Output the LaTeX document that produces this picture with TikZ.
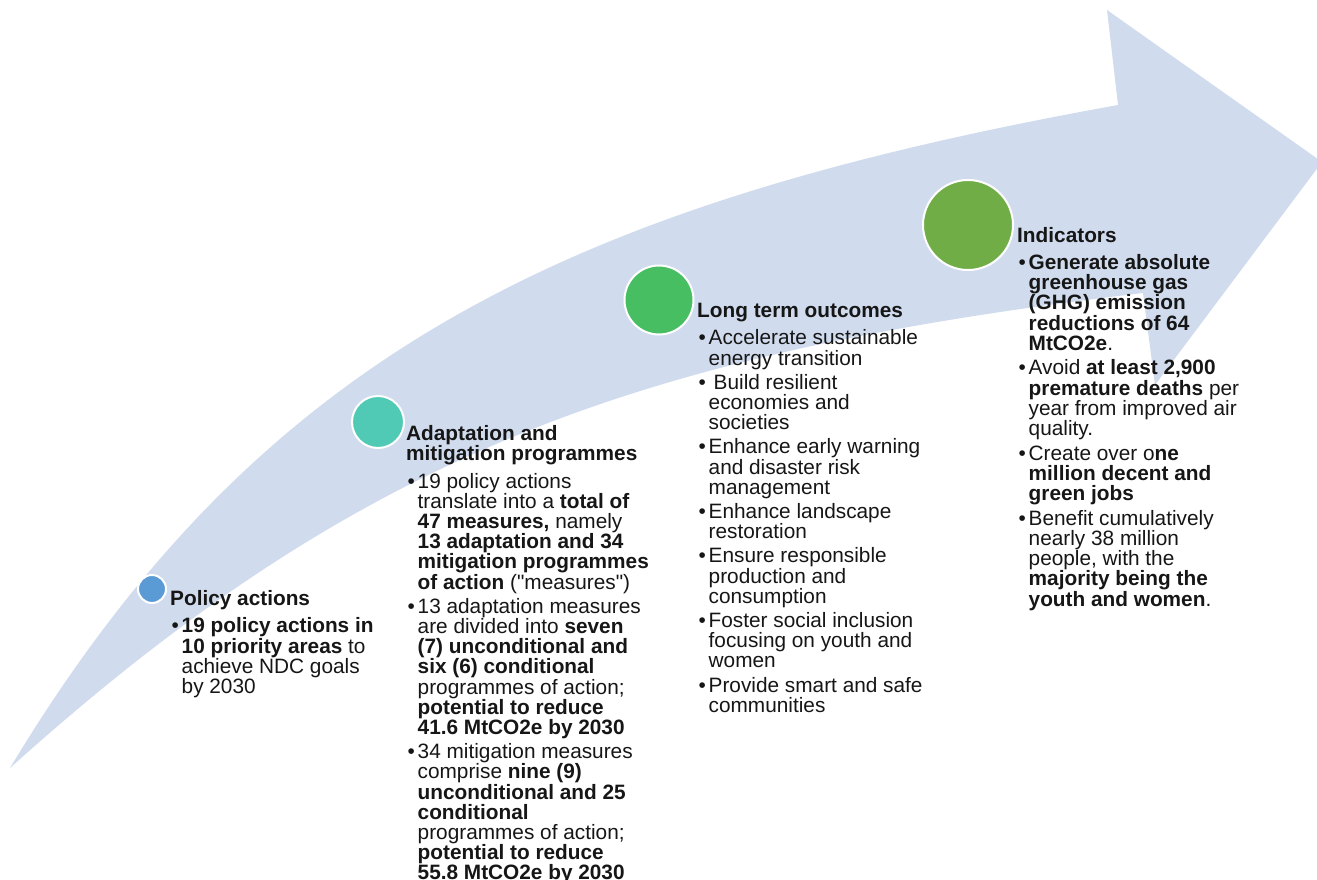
\documentclass[tikz,border=0pt]{standalone}
\usepackage{fontspec}
\setmainfont{Liberation Sans}[Ligatures=TeXOff]
\definecolor{arrowblue}{RGB}{208,220,238}
\definecolor{cpolicy}{RGB}{91,155,213}
\definecolor{cadapt}{RGB}{80,201,181}
\definecolor{clong}{RGB}{72,190,98}
\definecolor{cind}{RGB}{112,173,71}
\definecolor{txt}{RGB}{22,22,22}
\newcommand\bul{\makebox[11.5pt][l]{\kern1.5pt\textbullet}}
\newcommand\ind{\hbox to 11.5pt{}}
\newcommand\lnstart{\rule{0pt}{18pt}}
\tikzset{
  stagedot/.style={circle, draw=white, line width=2pt, inner sep=0pt},
  block/.style={anchor=north west, inner sep=0pt, align=left, text=txt,
    font=\fontsize{20.8}{20.2}\selectfont},
}
\begin{document}
\begin{tikzpicture}[x=1pt,y=-1pt]
\fill[white] (0,0) rectangle (1317,880);
\useasboundingbox (0,0) rectangle (1317,880);
\clip (0,0) rectangle (1317,880);
% curved arrow
\fill[arrowblue] (10,768) .. controls (260,353) and (568,204) .. (1118,105)
  -- (1107,10) -- (1322,162) -- (1155,385) -- (1143,293)
  .. controls (637,353) and (360,453) .. (10,768) -- cycle;
% stage circles
\node[stagedot, fill=cpolicy, minimum size=28pt] (c1) at (152,589) {};
\node[stagedot, fill=cadapt, minimum size=52pt] (c2) at (378,422) {};
\node[stagedot, fill=clong, minimum size=69pt] (c3) at (659,300) {};
\node[stagedot, fill=cind, minimum size=90pt] (c4) at (968,225) {};
% texts
\node[block] (policy) at (170,587) {\lnstart\textbf{Policy actions}\\[7.5pt]
\bul\textbf{19 policy actions in}\\
\ind\textbf{10 priority areas} to\\
\ind achieve NDC goals\\
\ind by 2030};
\node[block] (adapt) at (406,422) {\lnstart\textbf{Adaptation and}\\
\textbf{mitigation programmes}\\[7.5pt]
\bul 19 policy actions\\
\ind translate into a \textbf{total of}\\
\ind\textbf{47 measures,} namely\\
\ind\textbf{13 adaptation and 34}\\
\ind\textbf{mitigation programmes}\\
\ind\textbf{of action} ("measures")\\[4pt]
\bul 13 adaptation measures\\
\ind are divided into \textbf{seven}\\
\ind\textbf{(7) unconditional and}\\
\ind\textbf{six (6) conditional}\\
\ind programmes of action;\\
\ind\textbf{potential to reduce}\\
\ind\textbf{41.6 MtCO2e by 2030}\\[4pt]
\bul 34 mitigation measures\\
\ind comprise \textbf{nine (9)}\\
\ind\textbf{unconditional and 25}\\
\ind\textbf{conditional}\\
\ind programmes of action;\\
\ind\textbf{potential to reduce}\\
\ind\textbf{55.8 MtCO2e by 2030}};
\node[block] (longterm) at (697,299) {\lnstart\textbf{Long term outcomes}\\[7.5pt]
\bul Accelerate sustainable\\
\ind energy transition\\[4pt]
\bul\hspace{5pt}Build resilient\\
\ind economies and\\
\ind societies\\[4pt]
\bul Enhance early warning\\
\ind and disaster risk\\
\ind management\\[4pt]
\bul Enhance landscape\\
\ind restoration\\[4pt]
\bul Ensure responsible\\
\ind production and\\
\ind consumption\\[4pt]
\bul Foster social inclusion\\
\ind focusing on youth and\\
\ind women\\[4pt]
\bul Provide smart and safe\\
\ind communities};
\node[block] (indic) at (1017,224) {\lnstart\textbf{Indicators}\\[7pt]
\bul\textbf{Generate absolute}\\
\ind\textbf{greenhouse gas}\\
\ind\textbf{(GHG) emission}\\
\ind\textbf{reductions of 64}\\
\ind\textbf{MtCO2e}.\\[4.5pt]
\bul Avoid \textbf{at least 2,900}\\
\ind\textbf{premature deaths} per\\
\ind year from improved air\\
\ind quality.\\[4.5pt]
\bul Create over o\textbf{ne}\\
\ind\textbf{million decent and}\\
\ind\textbf{green jobs}\\[4.5pt]
\bul Benefit cumulatively\\
\ind nearly 38 million\\
\ind people, with the\\
\ind\textbf{majority being the}\\
\ind\textbf{youth and women}.};
\end{tikzpicture}
\end{document}
